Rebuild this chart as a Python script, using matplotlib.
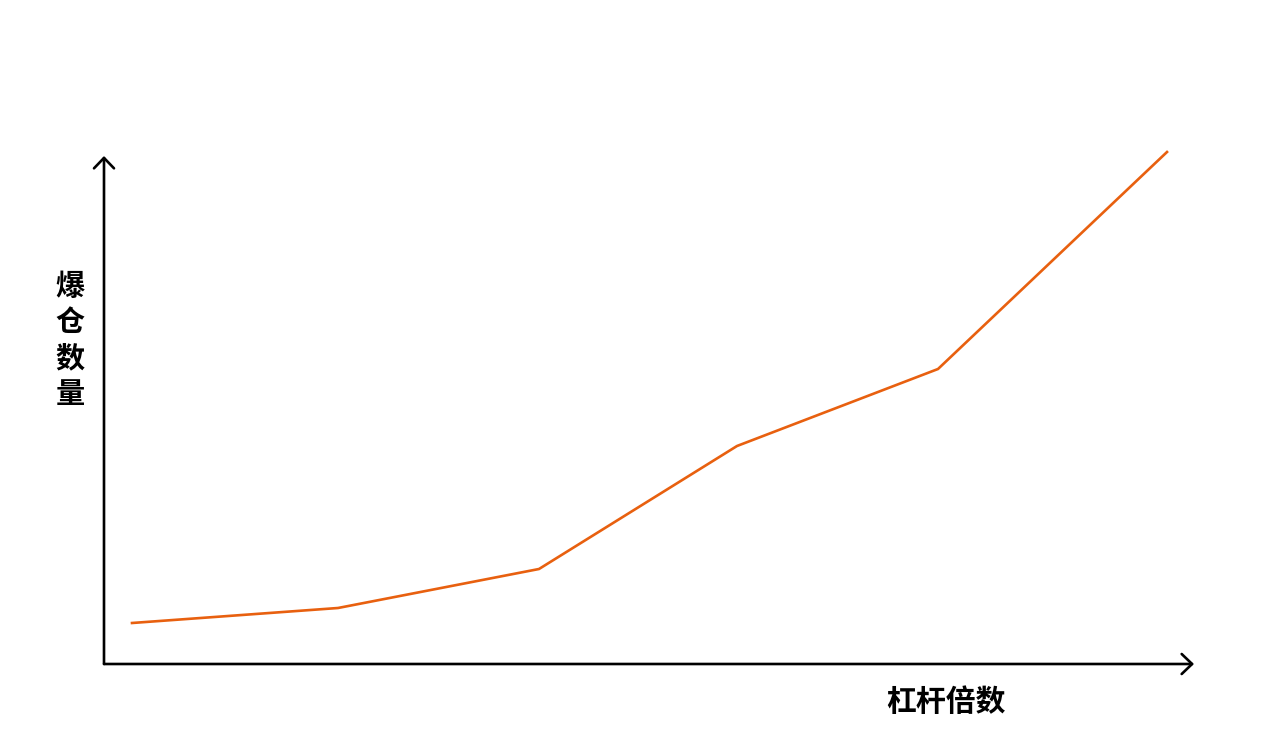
import matplotlib
matplotlib.use("Agg")
import matplotlib.pyplot as plt

plt.rcParams['font.family'] = ['Noto Sans CJK SC', 'DejaVu Sans']

# data (arbitrary units)
leverage = [0.14, 1.17, 2.175, 3.165, 4.17, 5.315]
liquidations = [0.41, 0.56, 0.95, 2.18, 2.95, 5.12]
x_label = "杠杆倍数"
y_label = "爆仓数量"

fig = plt.figure(figsize=(12.8, 7.54), dpi=100)
ax = fig.add_axes([104/1280, (754-664)/754, (1194-104)/1280, (664-156)/754])
ax.set_xlim(0, 5.45)
ax.set_ylim(0, 5.08)
ax.plot(leverage, liquidations, color='#E8600F', lw=1.9, clip_on=False, solid_joinstyle='miter')

for s in ax.spines.values():
    s.set_visible(False)
ax.set_xticks([])
ax.set_yticks([])

arrow = dict(arrowstyle='->,head_length=0.25,head_width=0.24', color='black', lw=1.9,
             mutation_scale=30, shrinkA=0, shrinkB=0)
ax.annotate('', xy=(1, 0), xytext=(0, 0), xycoords='axes fraction', arrowprops=arrow)
ax.annotate('', xy=(0, 1), xytext=(0, 0), xycoords='axes fraction', arrowprops=arrow)

fig.text(946/1280, 1 - 702/754, x_label, ha='center', va='center', fontsize=21.5, fontweight='bold')
fig.text(70/1280, 1 - 340/754, "\n".join(y_label), ha='center', va='center', fontsize=21,
         fontweight='bold', linespacing=1.26)

fig.savefig("out.png", dpi=100, facecolor='white')
